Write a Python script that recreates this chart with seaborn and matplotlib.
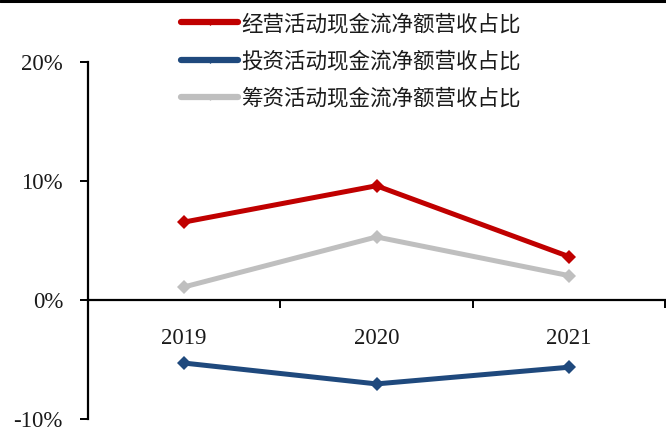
import matplotlib
matplotlib.use("Agg")
import matplotlib.pyplot as plt
from matplotlib.lines import Line2D
from matplotlib.ticker import FixedLocator, FuncFormatter
import seaborn as sns
import pandas as pd

years = ["2019", "2020", "2021"]
series_names = ["经营活动现金流净额营收占比", "投资活动现金流净额营收占比", "筹资活动现金流净额营收占比"]
operating = [6.55, 9.6, 3.65]
investing = [-5.3, -7.05, -5.65]
financing = [1.1, 5.3, 2.05]
series_colors = ["#C00000", "#1F497D", "#BFBFBF"]
y_ticks = [-10, 0, 10, 20]

rows = []
for name, vals in zip(series_names, [operating, investing, financing]):
    for i, (yr, v) in enumerate(zip(years, vals)):
        rows.append({"idx": i, "year": yr, "value": v, "series": name})
df = pd.DataFrame(rows)

sns.set_theme(style="white")
plt.rcParams["font.family"] = ["Noto Sans CJK SC", "DejaVu Sans"]

fig = plt.figure(figsize=(6.66, 4.45), dpi=100)
ax = fig.add_axes([88 / 666, 1 - 419 / 445, (665 - 88) / 666, (419 - 62) / 445])

sns.lineplot(
    data=df, x="idx", y="value", hue="series", style="series",
    hue_order=series_names, style_order=series_names,
    palette=series_colors, markers={n: "D" for n in series_names},
    dashes=False, linewidth=3.6, markersize=7.5, markeredgewidth=0,
    ax=ax, legend=False,
)

ax.set_xlim(-0.5, 2.5)
ax.set_ylim(-10, 20)
ax.set_xlabel("")
ax.set_ylabel("")

for s in ["top", "right"]:
    ax.spines[s].set_visible(False)
ax.spines["bottom"].set_position(("data", 0))
for s in ["left", "bottom"]:
    ax.spines[s].set_color("black")
    ax.spines[s].set_linewidth(1.6)

ax.yaxis.set_major_locator(FixedLocator(y_ticks))
ax.yaxis.set_major_formatter(FuncFormatter(lambda v, p: f"{int(v)}%"))
ax.tick_params(axis="y", which="major", direction="out", length=6, width=1.4,
               color="black", left=True, pad=12)
ax.xaxis.set_major_locator(FixedLocator([0, 1, 2]))
ax.set_xticklabels(years)
ax.xaxis.set_minor_locator(FixedLocator([0.5, 1.5, 2.5]))
ax.tick_params(axis="x", which="major", length=0, pad=20)
ax.tick_params(axis="x", which="minor", direction="out", length=6, width=1.4,
               color="black", bottom=True)

for lbl in ax.get_xticklabels() + ax.get_yticklabels():
    lbl.set_family(["Liberation Serif", "DejaVu Serif"])
    lbl.set_fontsize(16.5)
    lbl.set_color("#1a1a1a")

handles = [Line2D([], [], color=c, linewidth=4.5, marker="D", markersize=3.5,
                  markeredgewidth=0) for c in series_colors]
leg = fig.legend(handles, series_names, loc="upper left",
                 bbox_to_anchor=(181 / 666, 1 - 13 / 445), frameon=False,
                 prop={"family": ["Noto Sans CJK SC", "DejaVu Sans"], "size": 15.5},
                 handlelength=2.65, handletextpad=0.15, labelspacing=0.7,
                 borderpad=0, borderaxespad=0)
for t in leg.get_texts():
    t.set_color("#1a1a1a")

fig.add_artist(Line2D([0, 1], [1 - 0.8 / 445, 1 - 0.8 / 445], transform=fig.transFigure,
                      color="black", linewidth=2.2))

fig.savefig("out.png", dpi=100)
